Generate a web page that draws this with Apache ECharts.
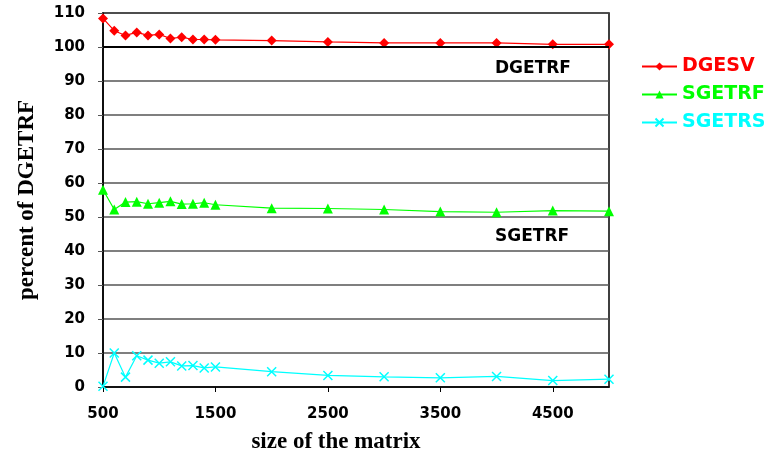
<!DOCTYPE html>
<html>
<head>
<meta charset="utf-8">
<script src="https://cdn.jsdelivr.net/npm/echarts@6/dist/echarts.min.js"></script>
<style>
  html, body { margin: 0; padding: 0; background: #fff; }
  #chart { width: 782px; height: 459px; }
</style>
</head>
<body>
<div id="chart"></div>
<script>
// Matrix sizes (x) and timings expressed as percent of DGETRF
const sizes = [500, 600, 700, 800, 900, 1000, 1100, 1200, 1300, 1400, 1500, 2000, 2500, 3000, 3500, 4000, 4500, 5000];
const dgesv = [108.4, 104.8, 103.4, 104.3, 103.4, 103.7, 102.5, 102.9, 102.2, 102.2, 102.1, 101.9, 101.5, 101.2, 101.2, 101.2, 100.8, 100.8];
const sgetrf = [58.0, 52.2, 54.4, 54.5, 53.9, 54.2, 54.6, 53.8, 53.9, 54.2, 53.6, 52.6, 52.5, 52.2, 51.6, 51.4, 51.9, 51.7];
const sgetrs = [0.2, 10.0, 2.9, 9.2, 7.9, 7.0, 7.4, 6.2, 6.3, 5.6, 5.9, 4.5, 3.4, 3.0, 2.7, 3.1, 1.9, 2.3];
const xTickLabels = [500, 1500, 2500, 3500, 4500];
const seriesNames = ['DGESV', 'SGETRF', 'SGETRS'];
const seriesColors = ['#ff0000', '#00ff00', '#00ffff'];
const referenceLevel = 100;

const pairs = ys => sizes.map((x, i) => [x, ys[i]]);
const crossPath = 'path://M0,0L10,10M10,0L0,10';

const chart = echarts.init(document.getElementById('chart'), null, { renderer: 'canvas' });

const labelFont = { fontFamily: 'DejaVu Sans', fontWeight: 'bold', fontSize: 15, color: '#000' };
const titleFont = { fontFamily: 'Liberation Serif', fontWeight: 'bold', fontSize: 23, color: '#000' };

chart.setOption({
  backgroundColor: '#fff',
  animation: false,
  grid: { left: 103, top: 13, width: 506, height: 376, show: true, borderColor: '#000', borderWidth: 1.5 },
  xAxis: {
    type: 'value',
    min: 500, max: 5000,
    name: 'size of the matrix',
    nameLocation: 'middle',
    nameGap: 44,
    nameTextStyle: Object.assign({ padding: [0, 40, 0, 0] }, titleFont),
    axisLine: { lineStyle: { color: '#000', width: 1.5 } },
    axisTick: { show: true, customValues: xTickLabels, length: 5, lineStyle: { color: '#000' } },
    axisLabel: Object.assign({ customValues: xTickLabels, margin: 20, formatter: v => String(v) }, labelFont),
    splitLine: { show: false }
  },
  yAxis: {
    type: 'value',
    min: 0, max: 110, interval: 10,
    name: 'percent of DGETRF',
    nameLocation: 'middle',
    nameGap: 64,
    nameTextStyle: titleFont,
    axisLine: { show: true, lineStyle: { color: '#000', width: 1.5 } },
    axisTick: { show: true, length: 5, lineStyle: { color: '#555' } },
    axisLabel: Object.assign({ margin: 18 }, labelFont),
    splitLine: { show: true, lineStyle: { color: '#555', width: 1.5 } }
  },
  legend: {
    orient: 'vertical',
    left: 636, top: 52,
    itemWidth: 35, itemHeight: 10,
    itemGap: 9,
    data: seriesNames.map((n, i) => ({
      name: n,
      textStyle: { color: seriesColors[i], fontFamily: 'DejaVu Sans', fontWeight: 'bold', fontSize: 19 }
    }))
  },
  graphic: [
    { type: 'text', x: 495, y: 69, style: { text: 'DGETRF', font: 'bold 17px "DejaVu Sans"', fill: '#000', verticalAlign: 'middle' } },
    { type: 'text', x: 495, y: 237, style: { text: 'SGETRF', font: 'bold 17px "DejaVu Sans"', fill: '#000', verticalAlign: 'middle' } }
  ],
  series: [
    {
      name: seriesNames[0], type: 'line', data: pairs(dgesv),
      symbol: 'diamond', symbolSize: 10,
      lineStyle: { color: seriesColors[0], width: 1.2 },
      itemStyle: { color: seriesColors[0] },
      markLine: {
        silent: true, symbol: 'none', label: { show: false },
        lineStyle: { color: '#000', width: 2, type: 'solid' },
        data: [{ yAxis: referenceLevel }]
      },
      z: 4
    },
    {
      name: seriesNames[1], type: 'line', data: pairs(sgetrf),
      symbol: 'triangle', symbolSize: 10,
      lineStyle: { color: seriesColors[1], width: 1.2 },
      itemStyle: { color: seriesColors[1] },
      z: 3
    },
    {
      name: seriesNames[2], type: 'line', data: pairs(sgetrs),
      symbol: crossPath, symbolSize: 9,
      lineStyle: { color: seriesColors[2], width: 1.2 },
      itemStyle: { color: 'rgba(0,0,0,0)', borderColor: seriesColors[2], borderWidth: 1.5 },
      z: 2
    }
  ]
});
</script>
</body>
</html>
